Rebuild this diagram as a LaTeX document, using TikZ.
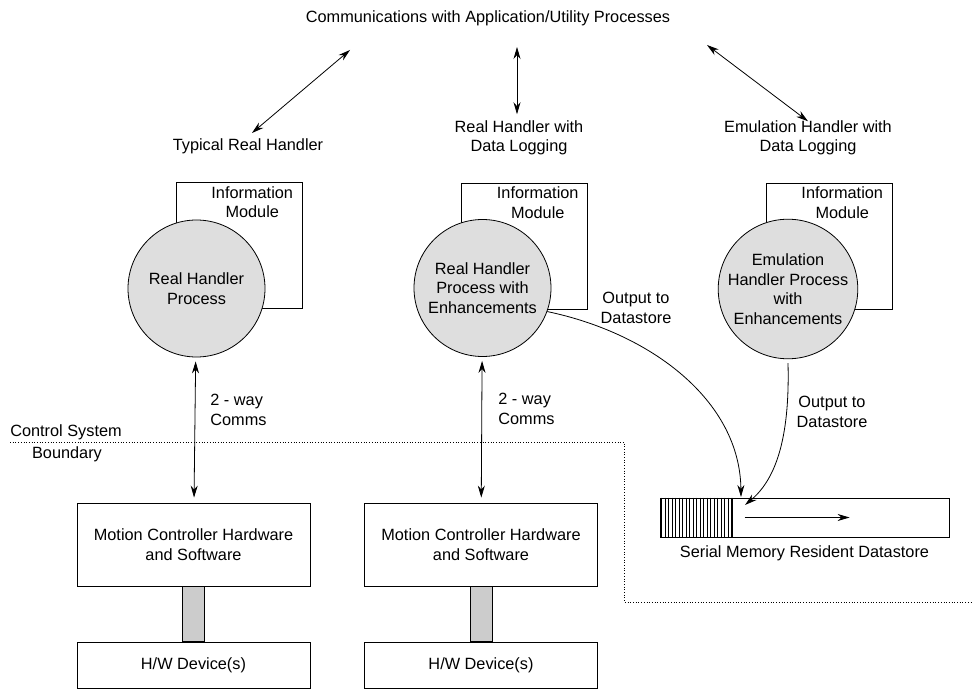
\documentclass[tikz,border=0pt]{standalone}
\usepackage{fontspec}
\setmainfont{Liberation Sans}
\usetikzlibrary{positioning,calc,arrows.meta}
\tikzset{proc node/.style={circle,draw,fill=black!13,minimum size=137pt,inner sep=0pt,align=center},
info node/.style={draw,minimum width=126pt,minimum height=126pt,inner sep=0pt},
hw node/.style={draw,minimum width=233pt,inner sep=0pt,align=center},
txt/.style={inner sep=0pt,align=center},
}

\begin{document}
\begin{tikzpicture}[x=1pt,y=-1pt,line width=0.8pt,
		font=\fontsize{16.3}{19.5}\selectfont,>={Stealth[length=12pt,width=7pt]}]
		\useasboundingbox (0,0) rectangle (972,692);
		
		% top labels
		\node[txt] (title) at (488,18) {Communications with Application/Utility Processes};
		\node[txt] (typ) at (248,146) {Typical Real Handler};
		\node[txt] (mid) at (519,138) {Real Handler with\\Data Logging};
		\node[txt] (emu) at (808,138) {Emulation Handler with\\Data Logging};
		\coordinate (c1) at (350,50);
		\coordinate (c2) at (517,47);
		\coordinate (c3) at (707,45);
		
		\draw[<->] (typ.north) ++(4,-5) -- (c1);
		\draw[<->] (c2) -- ([yshift=6pt]c2 |- mid.north);
		\draw[<->] (c3) -- ([yshift=-1pt]emu.north);
		
		% information modules and handler processes
		\node[info node] (info1) at (239,245.5) {};
		\node[info node] (info2) at (524.5,246) {};
		\node[info node] (info3) at (829,246) {};
		\foreach \n in {1,2,3}
		\node[txt,anchor=north east] at ([xshift=-9pt,yshift=-4pt]info\n.north east) {Information\\Module};
		
		\node[proc node] (rh1) at (196.5,288.5) {Real Handler\\Process};
		\node[proc node] (rh2) at (482.5,288) {Real Handler\\Process with\\Enhancements};
		\node[proc node] (rh3) at (788,289) {Emulation\\Handler Process\\with\\Enhancements};
		
		% motion controllers and devices
		\node[hw node,minimum height=83pt] (mc1) at (193.5,544.5) {Motion Controller Hardware\\and Software};
		\node[hw node,minimum height=83pt] (mc2) at (481,544.5) {Motion Controller Hardware\\and Software};
		\node[hw node,minimum height=46pt] (hw1) at (193.5,665) {H/W Device(s)};
		\node[hw node,minimum height=46pt] (hw2) at (481,665) {H/W Device(s)};
		\foreach \n in {1,2}
		\draw[fill=black!20] ([xshift=-11pt]mc\n.south) rectangle ([xshift=11pt]hw\n.north);
		
		\path[draw,<->,shorten <=4pt,shorten >=5pt]
		(rh1) edge (mc1)
		(rh2) edge (mc2)
		;
		\node[txt,align=left,anchor=west] at (210,410) {2 - way\\Comms};
		\node[txt,align=left,anchor=west] at (498,409) {2 - way\\Comms};
		
		% control system boundary
		\draw[dotted,line width=0.7pt] (10,442) -- (624,442) -- (624,602) -- (972,602);
		\node[txt] at (66,432) {Control System};
		\node[txt] at (67,454) {Boundary};
		
		% datastore
		\node[draw,minimum width=289pt,minimum height=39pt,inner sep=0pt] (ds) at (804.5,517.5) {};
		\foreach \i in {0,...,20}
		\draw[line width=0.5pt] ($(ds.north west)+(2+\i*3.5,0)$) -- ($(ds.south west)+(2+\i*3.5,0)$);
		\draw ($(ds.north west)+(73,0)$) -- ($(ds.south west)+(73,0)$);
		\coordinate (ds1) at ($(ds.west)+(85,0)$);
		\coordinate (ds2) at ($(ds.west)+(190,0)$);
		\draw[->] (ds1) -- (ds2);
		\node[txt,below=8pt of ds] {Serial Memory Resident Datastore};
		
		\coordinate (in1) at (741,497);
		\coordinate (in2) at (745,505);
		\draw[->] (rh2.-20) .. controls (650,333) and (740,400) .. (in1);
		\draw[->] ([yshift=-4pt]rh3.south) .. controls (790,440) and (775,480) .. (in2);
		\node[txt] at (636,308) {Output to\\Datastore};
		\node[txt] at (832,412) {Output to\\Datastore};
		\end{tikzpicture}
\end{document}
